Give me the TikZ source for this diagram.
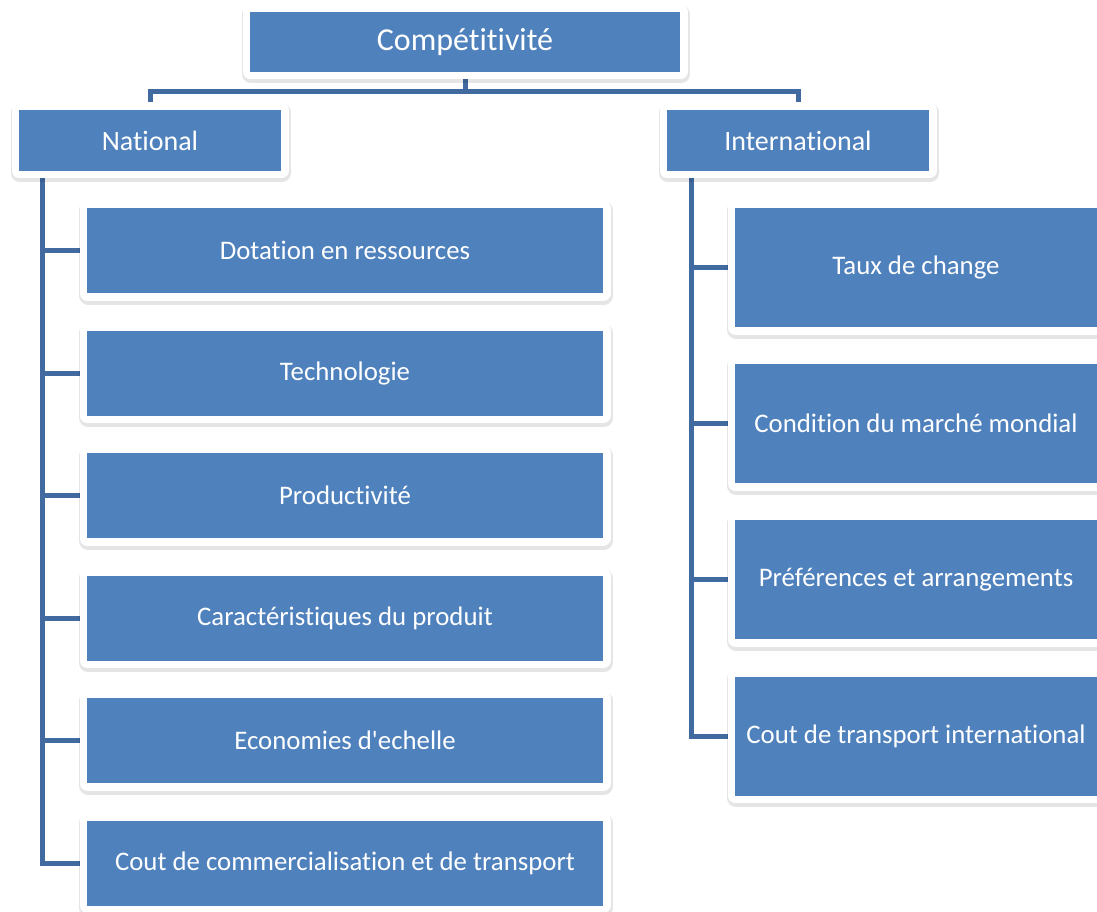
\documentclass[tikz,border=0pt]{standalone}
\usepackage{fontspec}
\setmainfont[Ligatures={NoCommon}]{Carlito}
\usetikzlibrary{backgrounds}
\definecolor{boxblue}{HTML}{4F81BD}
\definecolor{linkblue}{RGB}{64,106,160}
\tikzset{
  box/.style={fill=boxblue, text=white, inner sep=0pt, align=center,
    preaction={draw=black, draw opacity=0.10, line width=18pt, line join=round,
      transform canvas={xshift=1pt,yshift=-2.5pt}},
    preaction={draw=white, line width=15pt, line join=round}},
  topbox/.style={box, minimum width=430pt, minimum height=60pt, font=\fontsize{32}{38}\selectfont},
  midbox/.style={box, minimum width=262pt, minimum height=61pt, font=\fontsize{28}{33}\selectfont},
  leftbox/.style={box, minimum width=516pt, minimum height=85pt, font=\fontsize{26.8}{32}\selectfont},
  rightbox/.style={box, minimum width=362pt, minimum height=119pt, font=\fontsize{26.8}{32}\selectfont},
  link/.style={draw=linkblue, line width=5pt}
}
\begin{document}
\begin{tikzpicture}[x=1pt,y=-1pt]
\useasboundingbox (0,0) rectangle (1097,912);
\clip (0,0) rectangle (1097,912);
\node[topbox] (top) at (465,42) {Compétitivité};
\node[midbox] (nat) at (150,140.5) {National};
\node[midbox] (int) at (798,140.5) {International};
\node[leftbox] (l1) at (345,250.5) {Dotation en ressources};
\node[leftbox] (l2) at (345,373) {Technologie};
\node[leftbox] (l3) at (345,495.5) {Productivité};
\node[leftbox] (l4) at (345,618) {Caractéristiques du produit};
\node[leftbox] (l5) at (345,740.5) {Economies d\textquotesingle echelle};
\node[leftbox] (l6) at (345,863) {Cout de commercialisation et de transport};
\node[rightbox] (r1) at (916,267.5) {Taux de change};
\node[rightbox] (r2) at (916,423.5) {Condition du marché mondial};
\node[rightbox] (r3) at (916,579.5) {Préférences et arrangements};
\node[rightbox] (r4) at (916,736) {Cout de transport international};
\coordinate (bar) at (465,92);
\coordinate (ltrunk) at (42.5,171);
\coordinate (rtrunk) at (691,171);
\begin{pgfonlayer}{background}
\draw[link] (top.south) -- (bar) -| (nat.north);
\draw[link] (bar) -| (int.north);
\foreach \c in {l1,l2,l3,l4,l5}{\draw[link] (ltrunk) |- (\c.west);}
\draw[link] (ltrunk) |- (l6.west);
\foreach \c in {r1,r2,r3}{\draw[link] (rtrunk) |- (\c.west);}
\draw[link] (rtrunk) |- (r4.west);
\end{pgfonlayer}
\end{tikzpicture}
\end{document}
